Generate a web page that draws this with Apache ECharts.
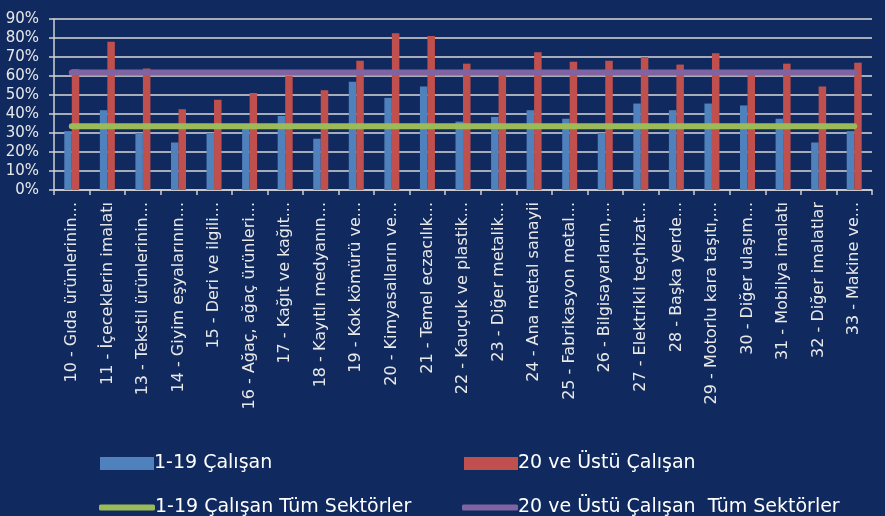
<!DOCTYPE html>
<html>
<head>
<meta charset="utf-8">
<script src="https://cdn.jsdelivr.net/npm/echarts@6/dist/echarts.min.js"></script>
<style>
html, body { margin: 0; padding: 0; background: #102a5f; }
#main { width: 885px; height: 516px; }
</style>
</head>
<body>
<div id="main"></div>
<script>
// sektör adları (grafikteki gibi kısaltılmış)
const sektorler = [
    '10 - Gıda ürünlerinin...', '11 - İçeceklerin imalatı', '13 - Tekstil ürünlerinin...',
    '14 - Giyim eşyalarının...', '15 - Deri ve ilgili...', '16 - Ağaç, ağaç ürünleri...',
    '17 - Kağıt ve kağıt...', '18 - Kayıtlı medyanın...', '19 - Kok kömürü ve...',
    '20 - Kimyasalların ve...', '21 - Temel eczacılık...', '22 - Kauçuk ve plastik...',
    '23 - Diğer metalik...', '24 - Ana metal sanayii', '25 - Fabrikasyon metal...',
    '26 - Bilgisayarların,...', '27 - Elektrikli teçhizat...', '28 - Başka yerde...',
    '29 - Motorlu kara taşıtı,...', '30 - Diğer ulaşım...', '31 - Mobilya imalatı',
    '32 - Diğer imalatlar', '33 - Makine ve...'
];
// 1-19 çalışan (%)
const kucuk = [31, 42, 30, 25, 30, 33, 39, 27, 57, 48.5, 54.5, 36, 38.5, 42, 37.5,
    30, 45.5, 42, 45.5, 44.5, 37.5, 25, 31];
// 20 ve üstü çalışan (%)
const buyuk = [63.5, 78, 64, 42.5, 47.5, 51, 60, 52.5, 68, 82.5, 81, 66.5, 60.5, 72.5, 67.5,
    68, 70, 66, 72, 61, 66.5, 54.5, 67];
// tüm sektörler ortalaması
const kucukTum = [33.5, 33.5, 33.5, 33.5, 33.5, 33.5, 33.5, 33.5, 33.5, 33.5, 33.5, 33.5,
    33.5, 33.5, 33.5, 33.5, 33.5, 33.5, 33.5, 33.5, 33.5, 33.5, 33.5];
const buyukTum = [61.8, 61.8, 61.8, 61.8, 61.8, 61.8, 61.8, 61.8, 61.8, 61.8, 61.8, 61.8,
    61.8, 61.8, 61.8, 61.8, 61.8, 61.8, 61.8, 61.8, 61.8, 61.8, 61.8];

const yazi = 'DejaVu Sans';
const acik = '#e8e8e8';

const legendText = { color: '#ffffff', fontSize: 19, fontFamily: yazi, padding: [0, 0, 0, -5] };

let myChart = echarts.init(document.getElementById('main'));
myChart.setOption({
    backgroundColor: '#102a5f',
    animation: false,
    grid: {
        left: 54,
        right: 13,
        top: 19,
        bottom: 326
    },
    legend: [
        { left: 95, top: 449, itemWidth: 54, itemHeight: 13, icon: 'rect', textStyle: legendText, data: ['1-19 Çalışan'] },
        { left: 459, top: 449, itemWidth: 54, itemHeight: 13, icon: 'rect', textStyle: legendText, data: ['20 ve Üstü Çalışan'] },
        { left: 94, top: 493, itemWidth: 56, itemHeight: 6, textStyle: legendText,
            data: [{ name: '1-19 Çalışan Tüm Sektörler', icon: 'roundRect' }] },
        { left: 457, top: 493, itemWidth: 56, itemHeight: 6, textStyle: legendText,
            data: [{ name: '20 ve Üstü Çalışan  Tüm Sektörler', icon: 'roundRect' }] }
    ],
    xAxis: {
        type: 'category',
        data: sektorler,
        axisLine: { lineStyle: { color: '#d0d0d0', width: 1.5 } },
        axisTick: { show: true, length: 5, lineStyle: { color: '#d0d0d0', width: 1.5 } },
        axisLabel: {
            interval: 0,
            rotate: 90,
            color: acik,
            fontSize: 16,
            fontFamily: yazi,
            margin: 12
        }
    },
    yAxis: {
        type: 'value',
        min: 0,
        max: 90,
        interval: 10,
        axisLine: { show: true, lineStyle: { color: '#d0d0d0', width: 1.5 } },
        axisTick: { show: true, length: 5, lineStyle: { color: '#d0d0d0', width: 1.5 } },
        splitLine: { lineStyle: { color: '#d9d9d9', width: 1.5 } },
        axisLabel: {
            formatter: '{value}%',
            color: acik,
            fontSize: 15,
            fontFamily: yazi,
            margin: 15
        }
    },
    series: [
        {
            name: '1-19 Çalışan',
            type: 'bar',
            data: kucuk,
            barWidth: 7.5,
            barGap: '0%',
            itemStyle: { color: '#4f81bd' }
        },
        {
            name: '20 ve Üstü Çalışan',
            type: 'bar',
            data: buyuk,
            barWidth: 7.5,
            itemStyle: { color: '#c0504d' }
        },
        {
            name: '1-19 Çalışan Tüm Sektörler',
            type: 'line',
            data: kucukTum,
            symbol: 'none',
            z: 5,
            itemStyle: { color: '#9bbb59' },
            lineStyle: { color: '#9bbb59', width: 6, cap: 'round' }
        },
        {
            name: '20 ve Üstü Çalışan  Tüm Sektörler',
            type: 'line',
            data: buyukTum,
            symbol: 'none',
            z: 5,
            itemStyle: { color: '#8064a2' },
            lineStyle: { color: '#8064a2', width: 6, cap: 'round' }
        }
    ]
});
</script>
</body>
</html>
